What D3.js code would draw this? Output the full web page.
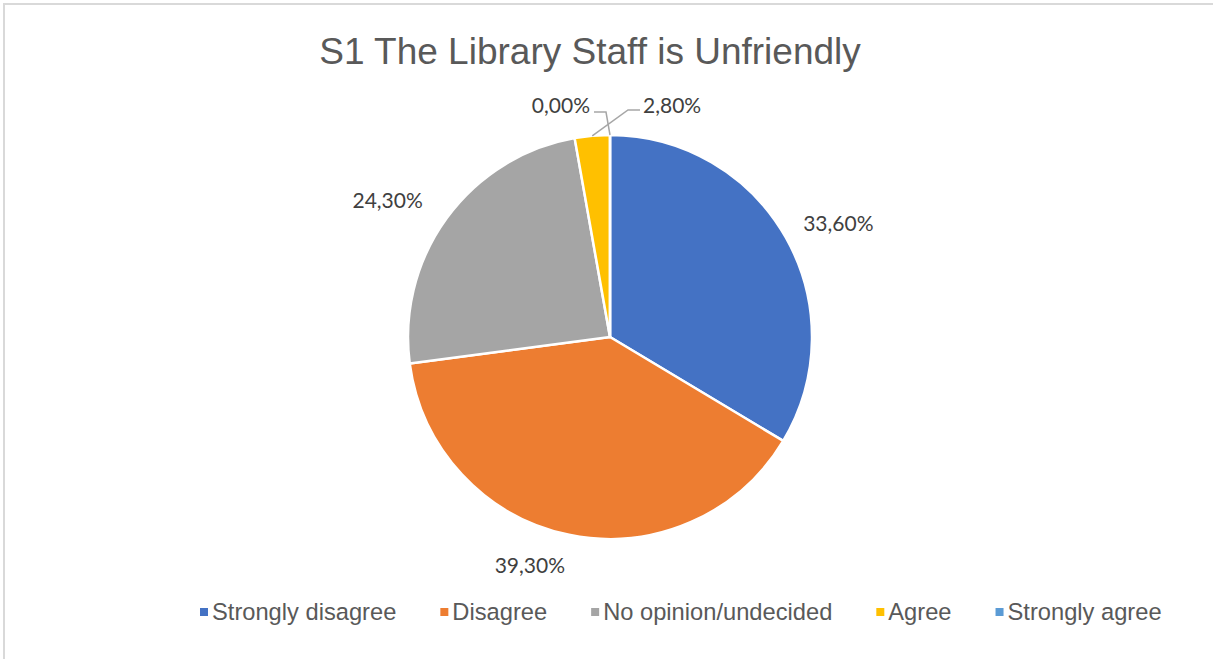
<!DOCTYPE html>
<html>
<head>
<meta charset="utf-8">
<script src="https://cdn.jsdelivr.net/npm/d3@7"></script>
<style>
  html, body { margin: 0; padding: 0; background: #ffffff; }
  svg { display: block; }
</style>
</head>
<body>
<svg id="chart" width="1213" height="659"></svg>
<script>
// Survey responses for statement S1
const categories = ["Strongly disagree", "Disagree", "No opinion/undecided", "Agree", "Strongly agree"];
const percentages = [33.6, 39.3, 24.3, 2.8, 0.0];
const sliceColors = ["#4472C4", "#ED7D31", "#A5A5A5", "#FFC000", "#5B9BD5"];
const chartTitle = "S1 The Library Staff is Unfriendly";

const W = 1213, H = 659;
const svg = d3.select("#chart");

// light frame around the chart area
svg.append("path")
  .attr("d", `M4,${H} L4,4 L${W},4`)
  .attr("fill", "none")
  .attr("stroke", "#d9d9d9")
  .attr("stroke-width", 2);

// title
svg.append("text")
  .attr("x", 590)
  .attr("y", 64)
  .attr("text-anchor", "middle")
  .attr("font-family", "Liberation Sans, Arial, sans-serif")
  .attr("font-size", 37)
  .attr("fill", "#595959")
  .text(chartTitle);

const cx = 610, cy = 337, r = 202;
const data = categories.map((c, i) => ({ cat: c, value: percentages[i], color: sliceColors[i] }));

const pie = d3.pie().value(d => d.value).sort(null);
const arcs = pie(data);
const arcGen = d3.arc().innerRadius(0).outerRadius(r);

const g = svg.append("g").attr("transform", `translate(${cx},${cy})`);

g.selectAll("path.slice")
  .data(arcs)
  .join("path")
  .attr("class", "slice")
  .attr("d", arcGen)
  .attr("fill", d => d.data.color)
  .attr("stroke", "#ffffff")
  .attr("stroke-width", 2.5)
  .attr("stroke-linejoin", "round");

const fmt = v => d3.format(".2f")(v).replace(".", ",") + "%";
const labelFont = "Lato, 'Open Sans', sans-serif";
const labelSize = 21;

// large slices: label set just outside the rim at the slice's mid angle,
// hanging off to the left or right depending on the side of the pie
const gap = 20;
arcs.filter(a => a.data.value >= 5).forEach(a => {
  const mid = (a.startAngle + a.endAngle) / 2;
  const s = Math.sin(mid), c = Math.cos(mid);
  const px = (r + gap) * s, py = -(r + gap) * c;
  g.append("text")
    .attr("font-family", labelFont)
    .attr("font-size", labelSize)
    .attr("fill", "#404040")
    .attr("text-anchor", s >= 0 ? "start" : "end")
    .attr("dominant-baseline", "central")
    .attr("x", px + (s < 0 && c > 0 ? -8 : 0))
    .attr("y", py - c * labelSize / 2)
    .text(fmt(a.data.value));
});

// thin slices: labels lifted above the pie with leader lines
const small = arcs.filter(a => a.data.value < 5);
const calloutY = -r - 31;
small.forEach((a, k) => {
  const mid = (a.startAngle + a.endAngle) / 2;
  const sx = r * Math.sin(mid), sy = -r * Math.cos(mid);
  const side = k === 0 ? 1 : -1;
  const t = g.append("text")
    .attr("font-family", labelFont)
    .attr("font-size", labelSize)
    .attr("fill", "#404040")
    .attr("dominant-baseline", "central")
    .attr("y", calloutY)
    .text(fmt(a.data.value));
  let pts;
  if (side > 0) {
    t.attr("text-anchor", "start").attr("x", 33);
    pts = [[sx, sy], [18, calloutY + 6], [30, calloutY + 6]];
  } else {
    t.attr("text-anchor", "end").attr("x", -20);
    pts = [[sx, sy], [-4, calloutY + 8], [-16, calloutY + 8]];
  }
  g.append("path")
    .attr("d", d3.line()(pts))
    .attr("fill", "none")
    .attr("stroke", "#a6a6a6")
    .attr("stroke-width", 1.5);
});

// legend
const legend = svg.append("g").attr("transform", "translate(200,612)");
let lx = 0;
data.forEach(d => {
  const item = legend.append("g").attr("transform", `translate(${lx},0)`);
  item.append("rect")
    .attr("x", 0).attr("y", -4)
    .attr("width", 8).attr("height", 8)
    .attr("fill", d.color);
  const t = item.append("text")
    .attr("x", 12)
    .attr("y", 0)
    .attr("dominant-baseline", "central")
    .attr("font-family", "Liberation Sans, Arial, sans-serif")
    .attr("font-size", 23.7)
    .attr("fill", "#595959")
    .text(d.cat);
  lx += 12 + t.node().getComputedTextLength() + 44;
});
</script>
</body>
</html>
